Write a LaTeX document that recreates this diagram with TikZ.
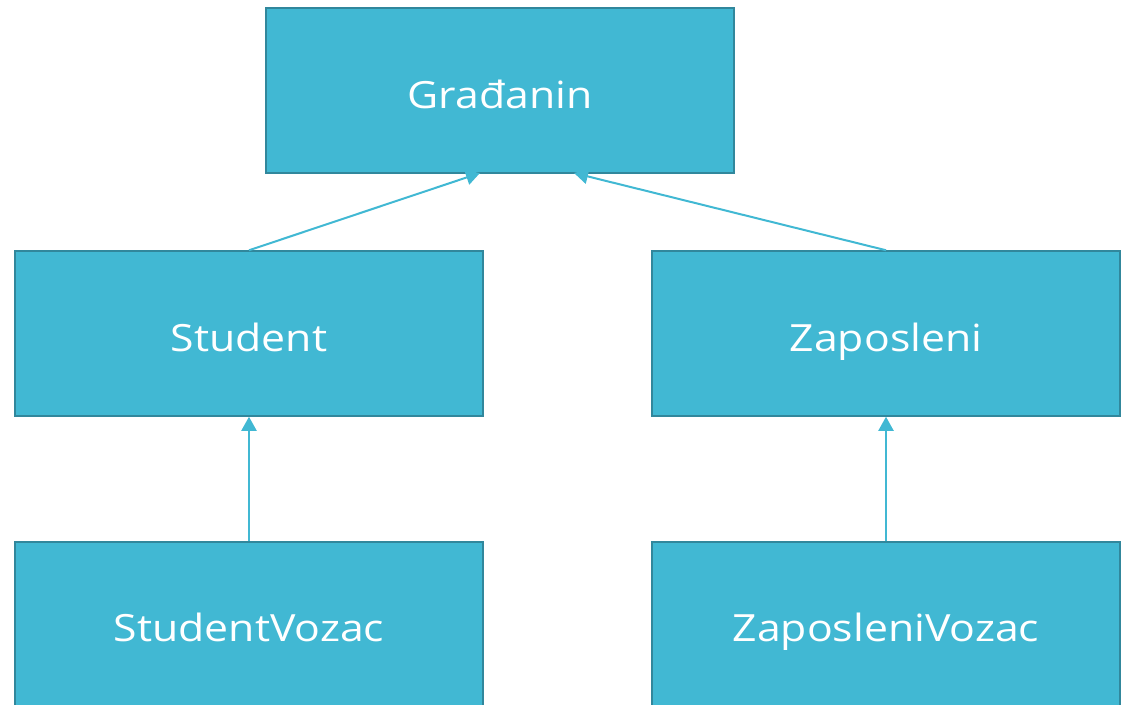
\documentclass[tikz,border=0pt]{standalone}
\usepackage{fontspec}
\setmainfont{Open Sans}[FakeStretch=1.14]
\usetikzlibrary{arrows.meta}
\definecolor{boxfill}{HTML}{41B8D3}
\definecolor{boxline}{HTML}{31879C}
\tikzset{
  cls/.style={draw=boxline, line width=1.5pt, fill=boxfill, minimum width=468pt, minimum height=165pt, inner sep=0pt, text height=35pt, text depth=0pt, text=white, font=\fontsize{37.5}{40}\selectfont},
  inh/.style={draw=boxfill, line width=2pt, -{Triangle[length=14pt,width=15pt]}}
}
\begin{document}
\begin{tikzpicture}[x=1pt,y=-1pt]
\useasboundingbox (0,0) rectangle (1126,704);
\clip (0,0) rectangle (1126,704);
\node[cls] (g) at (500,90.5) {Građanin};
\node[cls] (s) at (249,333.5) {Student};
\node[cls] (z) at (886,333.5) {Zaposleni};
\node[cls, anchor=north] (sv) at (249,541) {StudentVozac};
\node[cls, anchor=north] (zv) at (886,541) {ZaposleniVozac};
\coordinate (ga) at (480,173);
\coordinate (gb) at (574,173);
\draw[inh] (s.north) -- (ga);
\draw[inh] (z.north) -- (gb);
\draw[inh] (sv.north) -- (s.south);
\draw[inh] (zv.north) -- (z.south);
\end{tikzpicture}
\end{document}
